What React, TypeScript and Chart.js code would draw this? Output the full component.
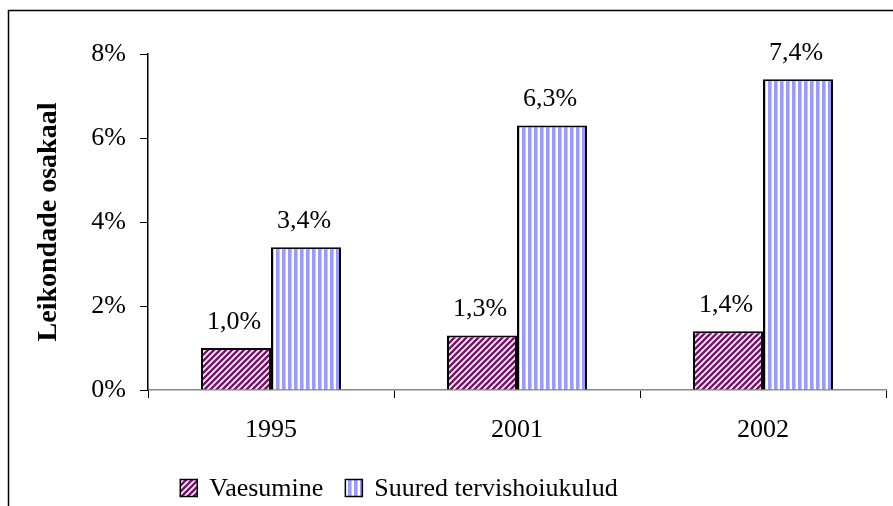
import React, { useEffect, useRef } from "react";
import { Chart, registerables } from "chart.js";

Chart.register(...registerables);

const categories = ["1995", "2001", "2002"];
const seriesNames = ["Vaesumine", "Suured tervishoiukulud"];
const vaesumine = [1.0, 1.3, 1.4];
const tervishoiukulud = [3.4, 6.3, 7.4];
const yTicks = [0, 2, 4, 6, 8];
const yTitle = "Leikondade osakaal";

const FONT = "'Liberation Serif', 'Times New Roman', serif";

function makeDiagonal(): CanvasPattern | string {
  const c = document.createElement("canvas");
  c.width = 6;
  c.height = 6;
  const g = c.getContext("2d");
  if (!g) return "#800080";
  g.fillStyle = "#ffffff";
  g.fillRect(0, 0, 6, 6);
  g.strokeStyle = "#7a1270";
  g.lineWidth = 2.6;
  g.beginPath();
  g.moveTo(-1, 7);
  g.lineTo(7, -1);
  g.moveTo(-4, 4);
  g.lineTo(4, -4);
  g.moveTo(2, 10);
  g.lineTo(10, 2);
  g.stroke();
  return g.createPattern(c, "repeat") || "#800080";
}

function makeVertical(): CanvasPattern | string {
  const c = document.createElement("canvas");
  c.width = 6;
  c.height = 6;
  const g = c.getContext("2d");
  if (!g) return "#9999ff";
  g.fillStyle = "#ffffff";
  g.fillRect(0, 0, 6, 6);
  g.fillStyle = "#9999ff";
  g.fillRect(0, 0, 3, 6);
  g.fillStyle = "#c4c4ff";
  g.fillRect(3, 0, 1, 6);
  return g.createPattern(c, "repeat") || "#9999ff";
}

const fmt = (v: number) => v.toFixed(1).replace(".", ",") + "%";

export default function App() {
  const ref = useRef<HTMLCanvasElement | null>(null);

  useEffect(() => {
    document.body.style.margin = "0";
    const canvas = ref.current;
    if (!canvas) return;
    const purple = makeDiagonal();
    const blue = makeVertical();

    const framePlugin = {
      id: "frame",
      beforeDraw(chart: any) {
        const ctx = chart.ctx;
        ctx.save();
        ctx.fillStyle = "#ffffff";
        ctx.fillRect(0, 0, chart.width, chart.height);
        ctx.strokeStyle = "#000000";
        ctx.lineWidth = 1.5;
        ctx.beginPath();
        ctx.moveTo(8.5, chart.height + 2);
        ctx.lineTo(8.5, 10.5);
        ctx.lineTo(chart.width + 2, 10.5);
        ctx.stroke();
        ctx.restore();
      },
    };

    const labelsPlugin = {
      id: "valueLabels",
      afterDatasetsDraw(chart: any) {
        const ctx = chart.ctx;
        ctx.save();
        ctx.font = `26px ${FONT}`;
        ctx.fillStyle = "#000000";
        ctx.textAlign = "center";
        ctx.textBaseline = "middle";
        chart.data.datasets.forEach((ds: any, di: number) => {
          const meta = chart.getDatasetMeta(di);
          meta.data.forEach((bar: any, i: number) => {
            ctx.fillText(fmt(ds.data[i]), bar.x - 2, bar.y - 26);
          });
        });
        ctx.restore();
      },
    };

    const legendPlugin = {
      id: "customLegend",
      afterDraw(chart: any) {
        const ctx = chart.ctx;
        ctx.save();
        ctx.font = `26px ${FONT}`;
        ctx.textBaseline = "middle";
        ctx.textAlign = "left";
        const box = 17;
        const gapText = 12;
        const gapItem = 22;
        const items = chart.data.datasets.map((ds: any) => ({
          label: ds.label,
          fill: ds.backgroundColor,
          w: ctx.measureText(ds.label).width,
        }));
        let total = 0;
        items.forEach((it: any, i: number) => {
          total += box + gapText + it.w + (i > 0 ? gapItem : 0);
        });
        const centerX = 399;
        const cy = 488;
        let x = centerX - total / 2;
        items.forEach((it: any) => {
          ctx.fillStyle = it.fill;
          ctx.fillRect(x, cy - box / 2, box, box);
          ctx.strokeStyle = "#000000";
          ctx.lineWidth = 1.5;
          ctx.strokeRect(x, cy - box / 2, box, box);
          ctx.fillStyle = "#000000";
          ctx.fillText(it.label, x + box + gapText, cy + 1);
          x += box + gapText + it.w + gapItem;
        });
        ctx.restore();
      },
    };

    const chart = new Chart(canvas, {
      type: "bar",
      data: {
        labels: categories,
        datasets: [
          {
            label: seriesNames[0],
            data: vaesumine,
            backgroundColor: purple as any,
            borderColor: "#000000",
            borderWidth: 2,
            categoryPercentage: 0.569,
            barPercentage: 1,
          },
          {
            label: seriesNames[1],
            data: tervishoiukulud,
            backgroundColor: blue as any,
            borderColor: "#000000",
            borderWidth: 2,
            categoryPercentage: 0.569,
            barPercentage: 1,
          },
        ],
      },
      options: {
        responsive: false,
        animation: false,
        devicePixelRatio: 1,
        layout: { padding: { top: 54, right: 7, bottom: 0, left: 0 } },
        plugins: {
          legend: { display: false },
          tooltip: { enabled: false },
        },
        scales: {
          x: {
            offset: true,
            grid: {
              offset: true,
              drawOnChartArea: false,
              tickLength: 8,
              color: "#000000",
            },
            border: { color: "#888888", width: 1.5 },
            ticks: {
              color: "#000000",
              font: { family: FONT, size: 26 },
              padding: 17,
            },
            afterFit(scale: any) {
              scale.height = 116;
            },
          },
          y: {
            min: 0,
            max: 8,
            afterBuildTicks(scale: any) {
              scale.ticks = yTicks.map((v) => ({ value: v }));
            },
            grid: {
              drawOnChartArea: false,
              tickLength: 8,
              color: "#000000",
            },
            border: { color: "#000000", width: 1.5 },
            ticks: {
              color: "#000000",
              font: { family: FONT, size: 26 },
              padding: 14,
              callback: (v: any) => v + "%",
            },
            title: {
              display: true,
              text: yTitle,
              color: "#000000",
              font: { family: FONT, size: 28, weight: "bold" },
              padding: { top: 32, bottom: 0 },
            },
            afterFit(scale: any) {
              scale.width = 148;
            },
          },
        },
      },
      plugins: [framePlugin, labelsPlugin, legendPlugin],
    });
    return () => chart.destroy();
  }, []);

  return (
    <div style={{ width: 893, height: 506 }}>
      <canvas ref={ref} width={893} height={506} style={{ display: "block" }} />
    </div>
  );
}
